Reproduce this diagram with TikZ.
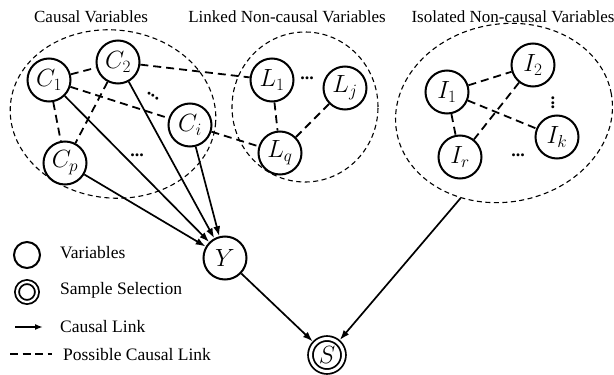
\documentclass[tikz,border=0pt]{standalone}
\usepackage{fontspec}
\setmainfont{Liberation Serif}
\usetikzlibrary{shapes.geometric,arrows.meta}

\begin{document}
\begin{tikzpicture}[x=1pt,y=-1pt,
    var/.style={circle, draw, line width=2pt, minimum size=43pt, inner sep=0pt, font=\fontsize{25}{25}\selectfont},
    sel/.style={circle, draw, line width=1.8pt, double, double distance=3pt, minimum size=33pt, inner sep=0pt, outer sep=3.2pt, font=\fontsize{25}{25}\selectfont},
    group/.style={ellipse, draw, line width=1.1pt, dash pattern=on 5pt off 3.5pt, inner sep=0pt},
    maybe/.style={line width=1.8pt, dash pattern=on 8pt off 5pt},
    causal/.style={-{Latex[length=10pt,width=7pt]}, line width=1.7pt},
    title/.style={font=\fontsize{17}{17}\selectfont},
    legtext/.style={anchor=west, inner sep=0pt, font=\fontsize{17.5}{18}\selectfont},
    dots/.style={inner sep=0pt, font=\fontsize{18}{18}\selectfont\bfseries}]
    \useasboundingbox (0,0) rectangle (614,375);

    % groups
    \node[group, minimum width=206pt, minimum height=168pt, rotate=-6] (cgroup) at (113,114) {};
    \node[group, minimum width=146pt, minimum height=150pt] (lgroup) at (305,107) {};
    \node[group, minimum width=218pt, minimum height=178pt, rotate=10] (igroup) at (504,113) {};
    \node[title] (ctitle) at (91,17) {Causal Variables};
    \node[title] (ltitle) at (287,17) {Linked Non-causal Variables};
    \node[title] (ititle) at (513,17) {Isolated Non-causal Variables};

    % causal variables
    \node[var] (c1) at (49,80) {$C_1$};
    \node[var] (c2) at (118,62) {$C_2$};
    \node[var] (ci) at (190,125) {$C_i$};
    \node[var] (cp) at (65,163) {$C_p$};
    \node[dots, rotate=-32] (cdots1) at (153,96) {...};
    \node[dots] (cdots2) at (137,155) {...};

    % linked non-causal variables
    \node[var] (l1) at (272,80) {$L_1$};
    \node[var] (lj) at (345,88) {$L_j$};
    \node[var] (lq) at (280,153) {$L_q$};
    \node[dots] (ldots) at (307,78) {...};

    % isolated non-causal variables
    \node[var] (i1) at (447,92) {$I_1$};
    \node[var] (i2) at (533,65) {$I_2$};
    \node[var] (ik) at (557,137) {$I_k$};
    \node[var] (ir) at (460,157) {$I_r$};
    \node[dots, rotate=90] (idots1) at (553,103) {...};
    \node[dots] (idots2) at (518,155) {...};

    % target and selection
    \node[var] (y) at (225,258) {$Y$};
    \node[sel] (s) at (327,355) {$S$};

    % possible causal links
    \draw[maybe] (c1) -- (c2);
    \draw[maybe] (c1) -- (cp);
    \draw[maybe] (c2) -- (cp);
    \draw[maybe] (c1) -- (ci);
    \draw[maybe] (c2) -- (l1);
    \draw[maybe] (ci) -- (lq);
    \draw[maybe] (l1) -- (lq);
    \draw[maybe] (lj) -- (lq);
    \draw[maybe] (i1) -- (i2);
    \draw[maybe] (i1) -- (ir);
    \draw[maybe] (i2) -- (ir);
    \draw[maybe] (i1) -- (ik);

    % causal links
    \draw[causal] (c1) -- (y);
    \draw[causal] (c2) -- (y);
    \draw[causal] (ci) -- (y);
    \draw[causal] (cp) -- (y);
    \draw[causal] (y) -- (s);
    \draw[causal] (igroup.233) -- (s);

    % legend
    \node[circle, draw, line width=2pt, minimum size=26pt, inner sep=0pt] (legvar) at (27,255) {};
    \node[circle, draw, line width=1.8pt, double, double distance=2.2pt, minimum size=20pt, inner sep=0pt] (legsel) at (27,292) {};
    \coordinate (arra) at (15,327);
    \coordinate (arrb) at (43,327);
    \coordinate (dasha) at (10,354);
    \coordinate (dashb) at (52,354);
    \draw[-{Latex[length=8pt,width=6pt]}, line width=1.7pt] (arra) -- (arrb);
    \draw[maybe, dash pattern=on 8pt off 4.5pt] (dasha) -- (dashb);
    \node[legtext] (legvartext) at (60,253) {Variables};
    \node[legtext] (legseltext) at (60,290) {Sample Selection};
    \node[legtext] (legarrtext) at (60,327) {Causal Link};
    \node[legtext] (legdashtext) at (63,355) {Possible Causal Link};
\end{tikzpicture}
\end{document}
